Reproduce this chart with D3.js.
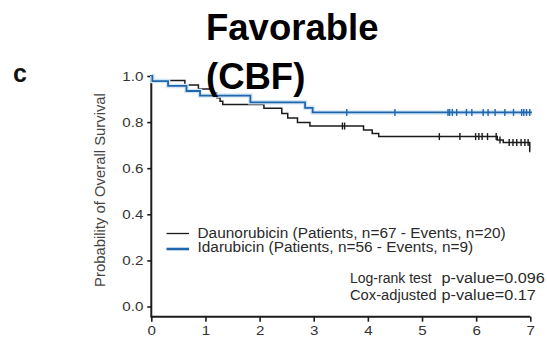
<!DOCTYPE html>
<html>
<head>
<meta charset="utf-8">
<script src="https://cdn.jsdelivr.net/npm/d3@7/dist/d3.min.js"></script>
<style>
  html, body { margin: 0; padding: 0; background: #fff; }
  svg { display: block; font-family: "Liberation Sans", Arial, Helvetica, sans-serif; }
</style>
</head>
<body>
<svg id="chart" width="547" height="341"></svg>
<script>
// Kaplan-Meier overall survival, favorable (CBF) group
const daunoTimes = [0, 0.02, 0.62, 0.87, 1.14, 1.21, 1.27, 1.32, 2.08, 2.41, 2.52, 2.70, 2.93, 3.92, 4.08, 4.20, 6.39, 6.50, 6.99, 7.00];
const daunoSurv  = [1, 0.980, 0.961, 0.944, 0.925, 0.906, 0.890, 0.876, 0.860, 0.837, 0.818, 0.798, 0.783, 0.766, 0.751, 0.737, 0.722, 0.711, 0.672, 0.672];
const daunoCensor = [3.53, 3.57, 5.32, 5.70, 5.99, 6.05, 6.11, 6.21, 6.37, 6.44, 6.61, 6.68, 6.75, 6.83, 6.90, 6.96];

const idaTimes = [0, 0.02, 0.31, 0.65, 0.90, 1.83, 2.84, 2.98, 7.03];
const idaSurv  = [1, 0.978, 0.957, 0.935, 0.915, 0.886, 0.862, 0.842, 0.842];
const idaCensor = [3.61, 4.50, 5.48, 5.51, 5.56, 5.64, 5.82, 5.92, 6.13, 6.22, 6.35, 6.53, 6.69, 6.84, 6.88, 6.93, 6.99];

const xTicks = [0, 1, 2, 3, 4, 5, 6, 7];
const yTicks = [0, 0.2, 0.4, 0.6, 0.8, 1.0];

const legendLabels = [
  "Daunorubicin (Patients, n=67 - Events, n=20)",
  "Idarubicin (Patients, n=56 - Events, n=9)"
];
const testNames = ["Log-rank test", "Cox-adjusted"];
const testValues = ["p-value=0.096", "p-value=0.17"];

const titleLines = ["Favorable", "(CBF)"];
const panelLetter = "c";
const yTitle = "Probability of Overall Survival";

const svg = d3.select("#chart");

const x = d3.scaleLinear().domain([0, 7]).range([151.3, 530.3]);
const y = d3.scaleLinear().domain([0, 1]).range([306.5, 76]);

const BLACK = "#1b1b1b";
const BLUE = "#1f66ad";

// stretch a text node horizontally by factor k
function stretch(sel, k) {
  sel.each(function () {
    const w = this.getComputedTextLength();
    d3.select(this).attr("textLength", w * k).attr("lengthAdjust", "spacingAndGlyphs");
  });
}

// axes
const xAxis = svg.append("g")
  .attr("transform", "translate(0,316.7)")
  .call(d3.axisBottom(x).tickValues(xTicks).tickFormat(d3.format("d")).tickSize(5).tickSizeOuter(0));
const yAxis = svg.append("g")
  .attr("transform", "translate(151.3,0)")
  .call(d3.axisLeft(y).tickValues(yTicks).tickFormat(d3.format(".1f")).tickSize(4).tickSizeOuter(0));

[xAxis, yAxis].forEach(g => {
  g.select(".domain").remove();
  g.selectAll(".tick line").attr("stroke", BLACK).attr("stroke-width", 1.6);
  g.selectAll(".tick text").attr("fill", "#333").attr("font-size", 13.5)
    .attr("font-family", "Liberation Sans, Arial, sans-serif");
});
xAxis.selectAll(".tick text").attr("y", 9).attr("dy", "0.71em");
yAxis.selectAll(".tick text").attr("x", -8);
stretch(xAxis.selectAll(".tick text"), 1.12);
stretch(yAxis.selectAll(".tick text"), 1.12);

// axis lines (y axis runs down to meet the x axis)
svg.append("line").attr("x1", x(0)).attr("x2", x(7)).attr("y1", 316.7).attr("y2", 316.7)
  .attr("stroke", BLACK).attr("stroke-width", 2);
svg.append("line").attr("x1", x(0)).attr("x2", x(0)).attr("y1", y(1) - 1).attr("y2", 317.7)
  .attr("stroke", BLACK).attr("stroke-width", 2);

// y title
const yt = svg.append("text")
  .attr("transform", "translate(105,190) rotate(-90)")
  .attr("text-anchor", "middle")
  .attr("font-size", 14)
  .attr("fill", "#444")
  .text(yTitle);
stretch(yt, 1.06);

// survival step curves
const stepLine = d3.line().x(d => x(d[0])).y(d => y(d[1])).curve(d3.curveStepAfter);
function survAt(times, surv, t) {
  let s = surv[0];
  for (let i = 0; i < times.length; i++) if (times[i] <= t) s = surv[i];
  return s;
}

const series = [
  { times: daunoTimes, surv: daunoSurv, censor: daunoCensor, color: BLACK, width: 1.5, halo: null },
  { times: idaTimes, surv: idaSurv, censor: idaCensor, color: BLUE, width: 1.8, halo: "#d3e6f5" }
];

series.forEach(s => {
  const pts = s.times.map((t, i) => [t, s.surv[i]]);
  if (s.halo) {
    svg.append("path").attr("d", stepLine(pts)).attr("fill", "none")
      .attr("stroke", s.halo).attr("stroke-width", 4.5);
  }
  svg.append("path").attr("d", stepLine(pts)).attr("fill", "none")
    .attr("stroke", s.color).attr("stroke-width", s.width);
  svg.append("g").selectAll("line").data(s.censor).join("line")
    .attr("x1", d => x(d)).attr("x2", d => x(d))
    .attr("y1", d => y(survAt(s.times, s.surv, d)) - 3.5)
    .attr("y2", d => y(survAt(s.times, s.surv, d)) + 3.5)
    .attr("stroke", s.color).attr("stroke-width", 1.4);
});

// legend
const legend = svg.append("g");
[[BLACK, 1.3], [BLUE, 2.6]].forEach((c, i) => {
  const ly = 233.5 + i * 15.5;
  legend.append("line").attr("x1", 166.5).attr("x2", 189).attr("y1", ly).attr("y2", ly)
    .attr("stroke", c[0]).attr("stroke-width", c[1]);
  const t = legend.append("text").attr("x", 197.5).attr("y", 237.5 + i * 14.5)
    .attr("font-size", 14).attr("fill", "#2a2a2a").text(legendLabels[i]);
  stretch(t, 1.1);
});

// test results
testNames.forEach((n, i) => {
  const by = 283 + i * 16.5;
  const a = svg.append("text").attr("x", 350).attr("y", by).attr("font-size", 14)
    .attr("fill", "#2a2a2a").text(n);
  stretch(a, i === 0 ? 1.0 : 1.05);
  const b = svg.append("text").attr("x", 441.5).attr("y", by).attr("font-size", 14)
    .attr("fill", "#2a2a2a").text(testValues[i]);
  stretch(b, 1.16);
});

// panel letter and title
svg.append("text").attr("x", 13).attr("y", 82).attr("font-size", 25).attr("font-weight", "bold")
  .attr("fill", "#111").text(panelLetter);
svg.append("g").selectAll("text").data(titleLines).join("text")
  .attr("x", 206).attr("y", (d, i) => 40 + i * 49)
  .attr("font-size", 36.5).attr("font-weight", "bold").attr("fill", "#000")
  .text(d => d);
</script>
</body>
</html>
